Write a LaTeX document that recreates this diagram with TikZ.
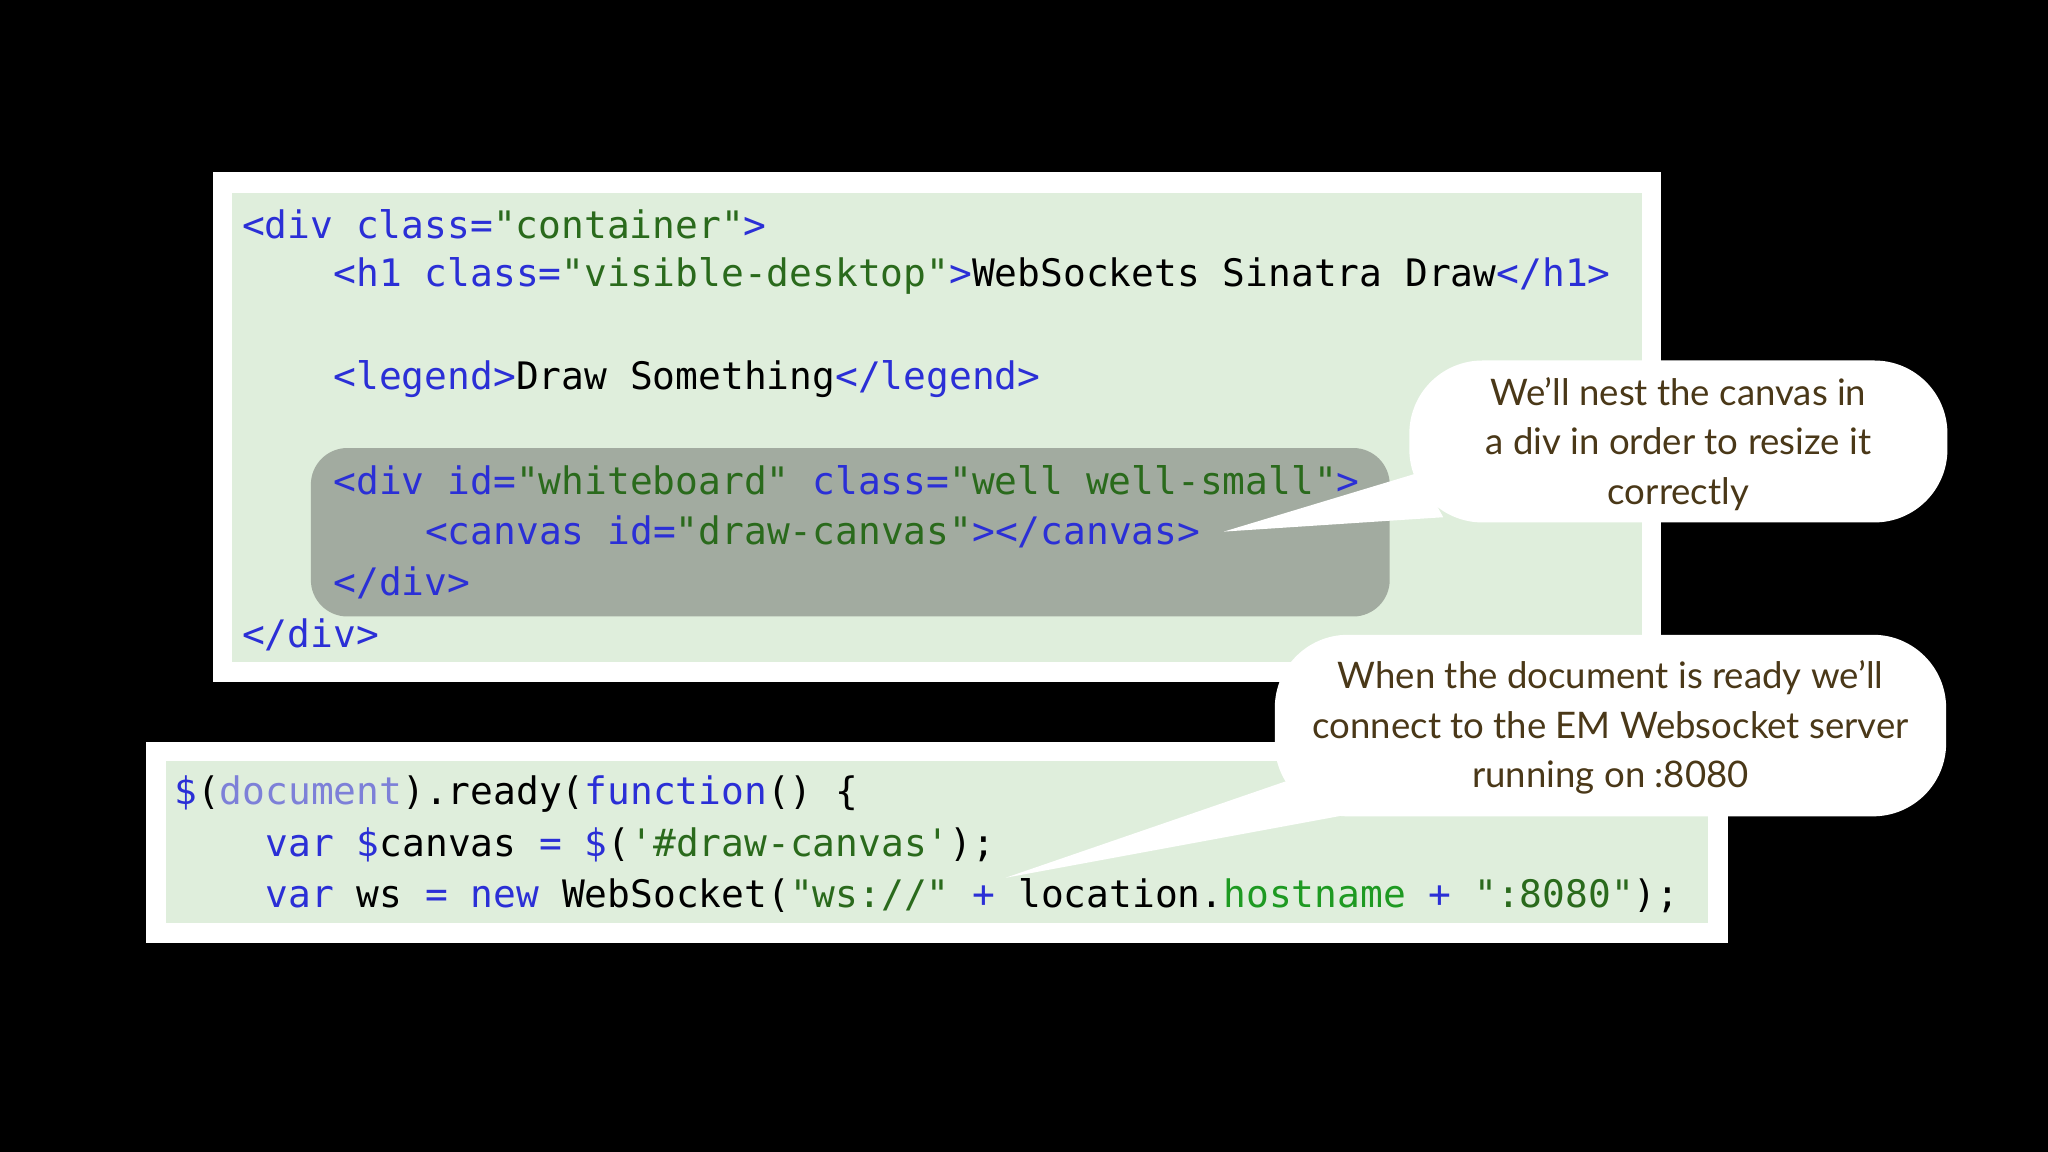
\documentclass[tikz,border=0pt]{standalone}
\usepackage{fontspec}
\newfontfamily\codefont{DejaVu Sans Mono}
\newfontfamily\callfont{Lato}
\definecolor{tagc}{HTML}{2B2FD6}
\definecolor{strc}{HTML}{2A6A1C}
\definecolor{docc}{HTML}{7D80D8}
\definecolor{hostc}{HTML}{1E9A22}
\definecolor{codebg}{HTML}{DFEEDC}
\definecolor{hlbg}{HTML}{A2ABA0}
\definecolor{callc}{HTML}{4A3818}
\newcommand{\tg}[1]{\textcolor{tagc}{#1}}
\newcommand{\sg}[1]{\textcolor{strc}{#1}}
\tikzset{code/.style={anchor=west,inner sep=0pt,font=\codefont\fontsize{14.5pt}{17pt}\selectfont},
 call/.style={align=center,text=callc,font=\callfont\fontsize{14pt}{19pt}\selectfont}}
\begin{document}
\begin{tikzpicture}[x=0.5pt,y=-0.5pt]
\fill[black] (0,0) rectangle (1568,882);
\useasboundingbox (0,0) rectangle (1568,882);
\fill[white] (163,132) rectangle (1272,522);
\fill[codebg] (178,148) rectangle (1257,507);
\fill[hlbg,rounded corners=14pt] (238,343) rectangle (1064,472);
\node[code] (l1) at (185,172) {\tg{<div~class=}\sg{"container"}\tg{>}};
\node[code] (l2) at (255,211) {\tg{<h1~class=}\sg{"visible-desktop"}\tg{>}WebSockets~Sinatra~Draw\tg{</h1>}};
\node[code] (l3) at (255,290) {\tg{<legend>}Draw~Something\tg{</legend>}};
\node[code] (l4) at (255,368) {\tg{<div~id=}\sg{"whiteboard"}~\tg{class=}\sg{"well~well-small"}\tg{>}};
\node[code] (l5) at (325,407) {\tg{<canvas~id=}\sg{"draw-canvas"}\tg{></canvas>}};
\node[code] (l6) at (255,446) {\tg{</div>}};
\node[code] (l7) at (185,486) {\tg{</div>}};
\fill[white] (112,568) rectangle (1323,722);
\fill[codebg] (127,583) rectangle (1308,707);
\node[code] (m1) at (133,608) {\tg{\$}(\textcolor{docc}{document}).ready(\tg{function}()~\{};
\node[code] (m2) at (203,647) {\tg{var}~\tg{\$}canvas~\tg{=}~\tg{\$}(\sg{'\#draw-canvas'});};
\node[code] (m3) at (203,686) {\tg{var}~ws~\tg{=}~\tg{new}~WebSocket(\sg{"ws://"}~\tg{+}~location.\textcolor{hostc}{hostname}~\tg{+}~\sg{":8080"});};
\coordinate (p1) at (937,407);
\coordinate (p2) at (770,672);
\fill[white,rounded corners=28pt] (1079,276) rectangle (1491,400);
\fill[white] (1086,362) -- (p1) -- (1105,396) -- cycle;
\node[call] (c1) at (1285,340) {We’ll nest the canvas in\\a div in order to resize it\\correctly};
\fill[white,rounded corners=28pt] (976,486) rectangle (1490,625);
\fill[white] (985,598) -- (p2) -- (1030,624) -- cycle;
\node[call] (c2) at (1233,557) {When the document is ready we’ll\\connect to the EM Websocket server\\running on :8080};
\end{tikzpicture}
\end{document}
